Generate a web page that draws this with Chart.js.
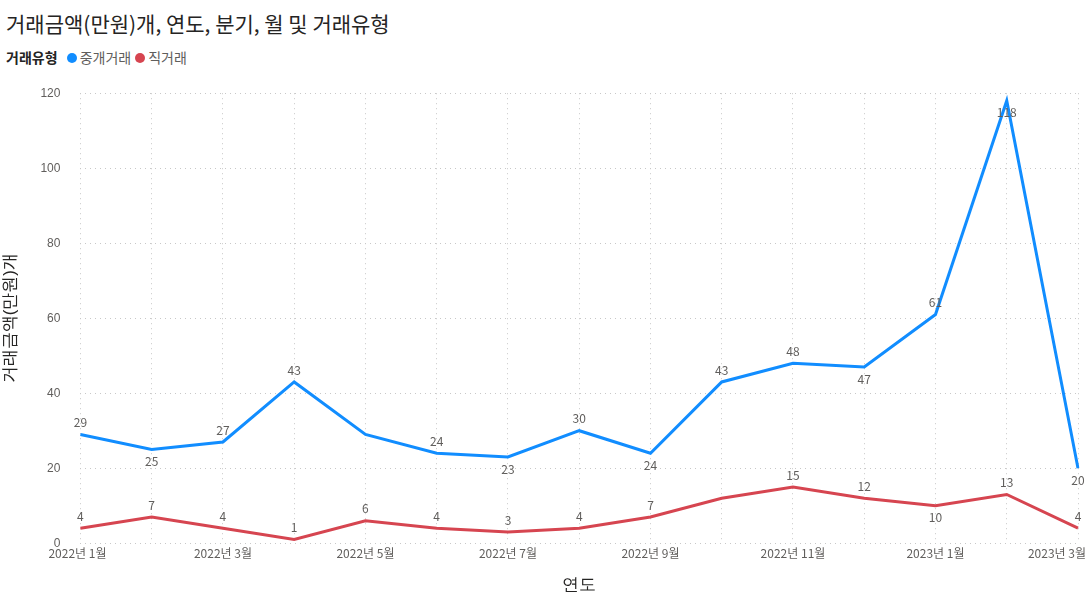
<!DOCTYPE html>
<html><head><meta charset="utf-8">
<script src="https://cdn.jsdelivr.net/npm/chart.js@4"></script>
<style>body{margin:0;background:#fff;font-family:"Noto Sans CJK KR","Noto Sans",sans-serif}
#t{position:absolute;left:6px;top:8px;font-size:21px;color:#252423}
#lg{position:absolute;left:6px;top:47px;font-size:14px;color:#605e5c}
.d{display:inline-block;width:10px;height:10px;border-radius:50%;margin:0 3px 0 6px}
#w{position:absolute;left:0;top:66px;width:1090px;height:534px}</style></head><body>
<div id="t">거래금액(만원)개, 연도, 분기, 월 및 거래유형</div>
<div id="lg"><b style="color:#252423">거래유형</b> <span class="d" style="background:#118DFF"></span>중개거래<span class="d" style="background:#D64550;margin-left:4px"></span>직거래</div>
<div id="w"><canvas id="c"></canvas></div>
<script>
const months=["2022년 1월","2022년 2월","2022년 3월","2022년 4월","2022년 5월","2022년 6월","2022년 7월","2022년 8월","2022년 9월","2022년 10월","2022년 11월","2022년 12월","2023년 1월","2023년 2월","2023년 3월"];
const brokered=[29,25,27,43,29,24,23,30,24,43,48,47,61,118,20];
const direct=[4,7,4,1,6,4,3,4,7,12,15,12,10,13,4];
const brokeredPos=["a","b","a","a","n","a","b","a","b","a","a","b","a","b","b"];
const directPos=["a","a","a","a","a","a","a","a","a","n","a","a","b","a","a"];
const lbl={id:'lbl',afterDatasetsDraw(ch){const x=ch.ctx;x.save();x.font='12px "Noto Sans CJK KR"';x.fillStyle='#605e5c';x.textAlign='center';
[brokeredPos,directPos].forEach((pos,di)=>{ch.getDatasetMeta(di).data.forEach((p,i)=>{if(pos[i]==='n')return;
const v=ch.data.datasets[di].data[i];x.textBaseline=pos[i]==='a'?'bottom':'top';x.fillText(v,p.x,pos[i]==='a'?p.y-6:p.y+6);});});
const xs=ch.scales.x;x.textBaseline='top';months.forEach((m,i)=>{if(i%2)return;const px=xs.getPixelForValue(i);
x.textAlign=i===0?'left':(i===months.length-1?'right':'center');x.fillText(m,i===0?px-32:(i===months.length-1?px+8:px),xs.top+4);});
x.restore();}};
new Chart(document.getElementById('c'),{type:'line',data:{labels:months,datasets:[
{data:brokered,borderColor:'#118DFF',borderWidth:3,pointRadius:0,tension:0},
{data:direct,borderColor:'#D64550',borderWidth:3,pointRadius:0,tension:0}]},
options:{responsive:true,maintainAspectRatio:false,animation:false,layout:{padding:{right:12,top:12}},
plugins:{legend:{display:false},tooltip:{enabled:false}},
scales:{x:{offset:false,grid:{color:'#c8c8c8',drawTicks:false},border:{display:false,dash:[1,4]},
ticks:{color:'#605e5c',font:{size:12},maxRotation:0,autoSkip:false,padding:6,callback:()=>' '},
title:{display:true,text:'연도',color:'#252423',font:{size:17},padding:{top:6}}},
y:{min:0,max:120,grid:{color:'#c8c8c8',drawTicks:false},border:{display:false,dash:[1,4]},
ticks:{stepSize:20,color:'#605e5c',font:{size:12},padding:20},
title:{display:true,text:'거래금액(만원)개',color:'#252423',font:{size:17},padding:0}}}},plugins:[lbl]});
</script></body></html>
